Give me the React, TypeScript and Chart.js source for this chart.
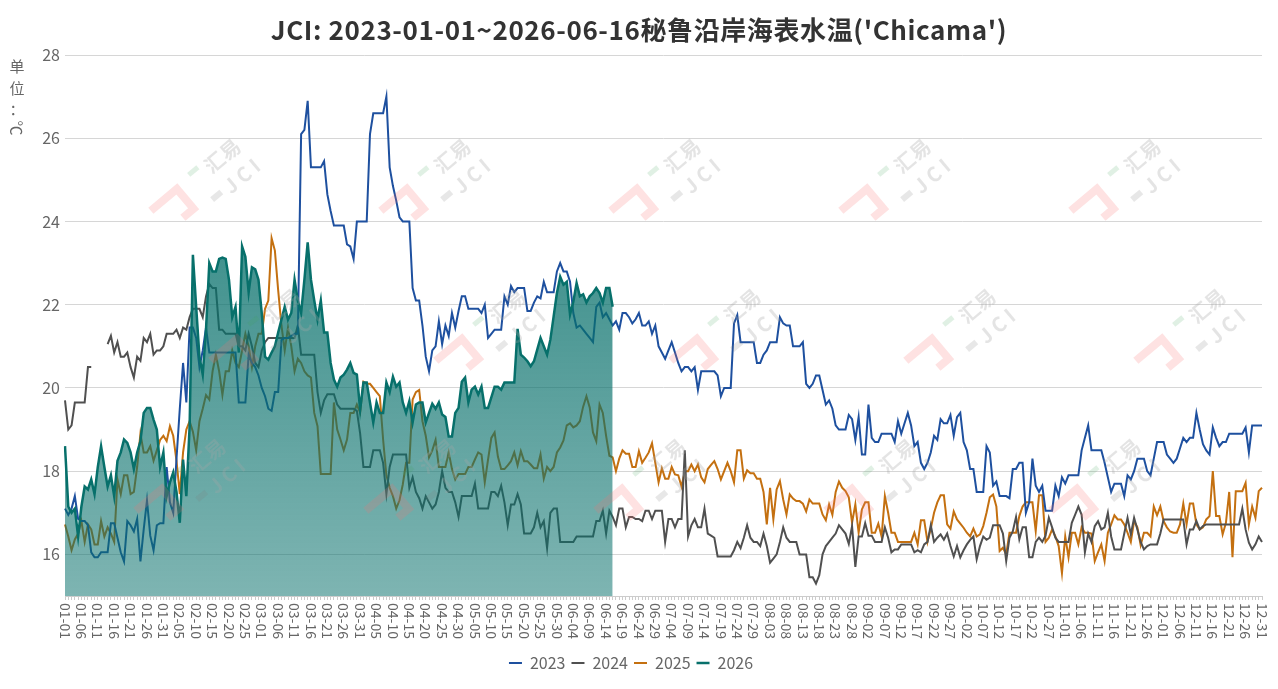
import React, { useEffect, useRef } from 'react';
import Chart from 'chart.js/auto';

// leap-year calendar, MM-DD
const monthDays = [31, 29, 31, 30, 31, 30, 31, 31, 30, 31, 30, 31];
const dayLabels: string[] = [];
monthDays.forEach((n, m) => {
  for (let d = 1; d <= n; d++) {
    dayLabels.push(`${String(m + 1).padStart(2, '0')}-${String(d).padStart(2, '0')}`);
  }
});
const labelEvery = 5;
const yTicks = [16, 18, 20, 22, 24, 26, 28];

const seriesNames = ['2023', '2024', '2025', '2026'];
const seriesColors = ['#1e509f', '#505050', '#c47010', '#07706b'];

const v2023 = [
  17.1, 16.95, 17.1, 17.4, 16.85, 16.8, 16.8, 16.7, 16.05, 15.93,
  15.93, 16.05, 16.05, 16.05, 16.75, 16.75, 16.4, 16.05, 15.83, 16.8,
  16.7, 16.55, 16.85, 15.83, 16.6, 17.3, 16.45, 16.1, 16.7, 16.75,
  16.75, 18.1, 17.25, 17.0, 18.3, 19.5, 20.6, 19.65, 21.45, 21.45,
  21.2, 20.5, 20.9, 21.45, 20.85, 20.85, 20.85, 20.85, 20.85, 20.85,
  20.85, 20.85, 20.85, 19.65, 19.65, 19.65, 20.8, 20.6, 20.5, 20.3,
  20.0, 19.8, 19.5, 19.45, 19.9, 19.9, 21.15, 21.2, 21.2, 21.25,
  21.3, 21.3, 26.1, 26.2, 26.9, 25.3, 25.3, 25.3, 25.3, 25.45,
  24.65, 24.25, 23.9, 23.9, 23.9, 23.9, 23.45, 23.4, 23.1, 24.0,
  24.0, 24.0, 24.0, 26.1, 26.6, 26.6, 26.6, 26.6, 27.0, 25.3,
  24.85, 24.5, 24.1, 24.0, 24.0, 24.0, 22.4, 22.1, 22.1, 21.5,
  20.75, 20.4, 20.9, 21.0, 21.6, 21.05, 21.5, 21.25, 21.8, 21.45,
  21.85, 22.2, 22.2, 21.9, 21.9, 21.9, 21.9, 21.8, 22.0, 21.2,
  21.3, 21.4, 21.4, 21.4, 22.2, 22.0, 22.45, 22.3, 22.4, 22.4,
  22.4, 21.85, 21.85, 22.05, 22.2, 22.15, 22.55, 22.3, 22.3, 22.3,
  22.8, 23.0, 22.8, 22.8, 22.55, 21.8, 21.45, 21.5, 21.4, 21.3,
  21.2, 21.1, 21.95, 22.05, 21.7, 21.8, 21.65, 21.5, 21.6, 21.4,
  21.8, 21.8, 21.7, 21.55, 21.65, 21.8, 21.5, 21.5, 21.6, 21.3,
  21.5, 21.0, 20.85, 20.7, 20.9, 21.1, 20.85, 20.6, 20.4, 20.5,
  20.5, 20.4, 20.5, 19.95, 20.4, 20.4, 20.4, 20.4, 20.4, 20.3,
  19.8, 20.0, 20.0, 20.0, 21.55, 21.75, 21.1, 21.1, 21.1, 21.1,
  21.1, 20.6, 20.6, 20.8, 20.9, 21.1, 21.1, 21.1, 21.7, 21.55,
  21.5, 21.5, 21.0, 21.0, 21.0, 21.1, 20.1, 20.0, 20.1, 20.3,
  20.3, 19.95, 19.6, 19.7, 19.5, 19.1, 19.0, 19.0, 19.0, 19.35,
  19.25, 18.75, 19.3, 18.4, 18.4, 19.6, 18.8, 18.7, 18.7, 18.9,
  18.9, 18.9, 18.9, 18.7, 19.2, 18.9, 19.15, 19.4, 19.1, 18.6,
  18.7, 18.2, 18.05, 18.2, 18.45, 18.85, 18.75, 19.25, 19.15, 19.15,
  19.35, 18.85, 19.3, 19.4, 18.7, 18.5, 18.05, 18.05, 17.5, 17.5,
  17.5, 18.6, 18.45, 17.65, 17.75, 17.4, 17.4, 17.4, 17.35, 18.05,
  18.05, 18.2, 18.2, 17.0, 17.25, 18.3, 17.65, 17.5, 17.65, 17.05,
  17.05, 17.05, 17.65, 17.4, 17.85, 17.7, 17.9, 17.9, 17.9, 17.9,
  18.5, 18.8, 19.1, 18.5, 18.5, 18.5, 18.5, 18.2, 17.85, 17.5,
  17.7, 17.7, 17.7, 17.4, 17.9, 17.8, 18.0, 18.3, 18.3, 18.3,
  18.0, 17.9, 18.3, 18.7, 18.7, 18.7, 18.4, 18.3, 18.2, 18.3,
  18.55, 18.8, 18.7, 18.8, 18.8, 19.4, 19.0, 18.65, 18.5, 18.4,
  19.05, 18.8, 18.6, 18.7, 18.7, 18.9, 18.9, 18.9, 18.9, 18.9,
  19.05, 18.45, 19.1, 19.1, 19.1, 19.1,
];

const v2024 = [
  19.7, 19.0, 19.1, 19.65, 19.65, 19.65, 19.65, 20.5, 20.5, null,
  null, null, null, 21.05, 21.25, 20.85, 21.1, 20.75, 20.75, 20.85,
  20.5, 20.25, 20.75, 20.65, 21.2, 21.1, 21.3, 20.8, 20.9, 20.9,
  21.0, 21.3, 21.3, 21.3, 21.4, 21.2, 21.45, 21.4, 21.7, 21.9,
  21.9, 21.9, 21.7, 22.2, 22.5, 22.4, 22.4, 21.4, 21.4, 21.3,
  21.3, 21.3, 21.3, 21.0, 21.0, 20.9, 21.3, 21.0, 20.6, 20.5,
  20.9, 21.1, 21.2, 21.2, 21.2, 21.2, 21.2, 21.2, 21.2, 21.2,
  21.2, 21.5, 20.8, 20.8, 20.8, 20.8, 20.8, 19.9, 19.4, 19.7,
  19.85, 19.85, 19.85, 19.6, 19.5, 19.5, 19.5, 19.5, 19.5, 19.45,
  18.9, 18.1, 18.1, 18.1, 18.5, 18.5, 18.5, 18.2, 17.45, 18.1,
  18.4, 18.4, 18.4, 18.4, 18.4, 17.6, 17.85, 17.5, 17.35, 17.1,
  17.4, 17.25, 17.1, 17.2, 17.5, 18.0, 17.6, 17.5, 17.5, 17.25,
  16.9, 17.4, 17.4, 17.4, 17.4, 17.7, 17.1, 17.1, 17.1, 17.1,
  17.5, 17.5, 17.4, 17.65, 17.25, 16.7, 17.2, 17.2, 17.45, 17.2,
  16.5, 16.5, 16.5, 16.65, 17.0, 16.65, 16.8, 16.15, 17.0, 17.1,
  17.1, 16.3, 16.3, 16.3, 16.3, 16.3, 16.43, 16.43, 16.43, 16.43,
  16.43, 16.43, 16.8, 16.8, 17.05, 16.5, 17.05, 16.9, 16.7, 17.1,
  17.1, 16.65, 16.9, 16.9, 16.85, 16.85, 16.8, 17.05, 17.05, 16.85,
  17.05, 17.05, 17.05, 16.3, 16.85, 16.85, 16.65, 16.85, 16.85, 18.5,
  16.43, 16.7, 16.85, 16.65, 16.65, 17.1, 16.5, 16.45, 16.4, 15.95,
  15.95, 15.95, 15.95, 15.95, 16.1, 16.3, 16.15, 16.4, 16.7, 16.4,
  16.3, 16.3, 16.2, 16.5, 16.2, 15.8, 15.9, 16.0, 16.3, 16.65,
  16.4, 16.3, 16.3, 16.3, 16.0, 16.0, 16.0, 15.45, 15.45, 15.3,
  15.5, 16.0, 16.2, 16.3, 16.4, 16.5, 16.7, 16.6, 16.5, 16.25,
  16.68, 15.7, 16.43, 16.43, 16.75, 16.45, 16.45, 16.3, 16.3, 16.3,
  16.65, 16.4, 16.05, 16.12, 16.12, 16.24, 16.24, 16.24, 16.24, 16.05,
  16.1, 16.05, 16.24, 16.3, 16.7, 16.3, 16.4, 16.48, 16.35, 16.5,
  16.2, 15.95, 16.2, 15.93, 16.1, 16.24, 16.35, 16.43, 15.88, 16.2,
  16.43, 16.35, 16.4, 16.7, 16.7, 16.7, 16.5, 15.84, 16.4, 16.55,
  16.9, 16.36, 16.65, 16.65, 15.93, 15.93, 16.3, 16.4, 16.3, 16.45,
  16.88, 16.65, 16.4, 16.3, 16.3, 16.3, 16.3, 16.76, 16.95, 17.15,
  16.95, 16.05, 16.5, 16.3, 16.68, 16.8, 16.6, 16.65, 17.0, 16.43,
  16.12, 16.12, 16.12, 16.5, 16.88, 16.48, 16.88, 16.6, 16.3, 16.12,
  16.2, 16.24, 16.24, 16.24, 16.5, 16.84, 16.84, 16.84, 16.84, 16.84,
  16.84, 16.84, 16.24, 16.6, 16.6, 16.8, 16.6, 16.68, 16.72, 16.72,
  16.72, 16.72, 16.72, 16.72, 16.72, 16.72, 16.72, 16.72, 16.72, 17.1,
  16.6, 16.28, 16.12, 16.24, 16.43, 16.3,
];

const v2025 = [
  16.72, 16.43, 16.1, 16.36, 16.5, 16.8, 16.3, 16.72, 16.6, 16.24,
  16.24, 16.8, 16.43, 16.65, 16.5, 16.3, 17.8, 17.45, 17.9, 17.9,
  17.45, 17.5, 18.1, 18.9, 18.45, 18.45, 18.6, 18.25, 18.5, 18.75,
  18.85, 18.72, 19.08, 18.85, 18.25, 17.45, 18.45, 19.0, 19.2, 18.95,
  18.5, 19.2, 19.5, 19.83, 19.72, 20.4, 20.8, 20.4, 19.83, 20.4,
  20.4, 20.9, 20.6, 20.5, 20.9, 21.3, 21.0, 20.5, 21.0, 21.3,
  21.3, 21.9, 22.1, 23.6, 23.3, 22.35, 21.5, 20.9, 21.45, 21.0,
  20.4, 20.7, 20.6, 20.4, 20.3, 20.25, 19.4, 19.08, 17.93, 17.93,
  17.93, 17.93, 19.65, 19.0, 18.76, 18.5, 18.76, 19.4, 19.4, 19.6,
  19.4, 20.15, 20.1, 20.1, 20.0, 19.9, 19.8, 18.76, 17.9, 17.6,
  17.4, 17.1, 17.3, 17.68, 18.2, 18.2, 19.72, 19.9, 19.95, 19.2,
  18.85, 18.33, 18.5, 18.75, 18.1, 18.1, 18.1, 18.45, 18.05, 17.8,
  17.93, 17.93, 17.93, 18.1, 18.1, 18.28, 18.45, 18.4, 17.73, 18.28,
  18.8, 18.93, 18.35, 18.05, 18.05, 18.14, 18.24, 18.45, 18.14, 18.48,
  18.24, 18.24, 18.16, 18.07, 18.07, 18.4, 17.82, 18.1, 18.0, 18.1,
  18.45, 18.57, 18.74, 19.1, 19.15, 19.05, 19.1, 19.2, 19.55, 19.8,
  19.53, 18.93, 18.72, 19.6, 19.4, 18.85, 18.37, 18.33, 18.0, 18.3,
  18.5, 18.42, 18.42, 18.1, 18.1, 18.48, 18.2, 18.32, 18.45, 18.67,
  18.2, 17.73, 18.07, 17.82, 17.82, 18.1, 17.92, 17.9, 17.63, 18.0,
  18.0, 18.16, 18.0, 18.16, 17.85, 17.73, 18.05, 18.15, 18.24, 18.05,
  17.8, 18.0, 18.2, 18.0, 17.73, 18.5, 18.5, 17.82, 18.02, 17.95,
  17.95, 17.82, 17.82, 17.5, 16.72, 17.6, 16.84, 17.56, 17.76, 17.32,
  16.96, 17.44, 17.34, 17.28, 17.28, 17.22, 17.03, 17.32, 17.22, 17.22,
  17.22, 16.96, 16.82, 17.2, 16.95, 17.5, 17.75, 17.6, 17.52, 17.37,
  16.76, 17.2, 16.52, 17.08, 17.25, 17.25, 16.52, 16.52, 16.74, 16.43,
  17.4, 17.0, 16.52, 16.52, 16.3, 16.3, 16.3, 16.3, 16.3, 16.52,
  16.24, 16.82, 16.82, 16.3, 16.62, 17.0, 17.25, 17.42, 17.42, 16.72,
  16.62, 17.03, 16.84, 16.74, 16.64, 16.52, 16.43, 16.62, 16.43, 16.48,
  16.68, 17.0, 17.37, 17.44, 17.15, 16.08, 16.16, 16.0, 16.52, 16.52,
  16.52, 16.92, 17.15, 17.25, 17.25, 17.25, 16.56, 17.42, 17.42, 16.3,
  16.4, 16.6, 16.43, 16.2, 15.55, 16.43, 15.93, 16.52, 16.52, 16.24,
  16.65, 16.52, 16.52, 16.5, 15.84, 16.05, 16.24, 15.84, 16.52, 16.72,
  16.94, 16.84, 16.84, 16.72, 16.52, 16.3, 16.8, 16.65, 16.22, 16.52,
  16.52, 16.43, 17.15, 16.94, 17.15, 16.8, 16.65, 16.55, 16.52, 16.52,
  16.72, 17.22, 16.72, 17.22, 17.22, 16.72, 16.6, 16.65, 16.84, 16.92,
  18.0, 16.92, 16.92, 16.48, 16.76, 17.5, 15.93, 17.52, 17.52, 17.52,
  17.72, 16.72, 17.15, 16.88, 17.52, 17.6,
];

// 2026 runs 01-01 .. 06-16
const v2026 = [
  18.6, 17.15, 17.0, 17.1, 16.43, 17.15, 17.63, 17.56, 17.8, 17.45,
  18.1, 18.6, 18.1, 17.63, 17.9, 17.4, 18.25, 18.45, 18.76, 18.68,
  18.45, 18.05, 18.45, 18.72, 19.4, 19.52, 19.52, 19.24, 19.0, 18.1,
  18.45, 17.4, 17.73, 17.97, 17.5, 16.76, 18.28, 17.4, 19.08, 23.2,
  21.95, 20.75, 20.32, 21.4, 23.0, 22.8, 22.8, 23.1, 23.13, 23.1,
  22.6, 21.7, 21.95, 20.85, 23.4, 23.15, 22.3, 22.9, 22.85, 22.6,
  21.8, 20.75, 20.68, 20.85, 21.0, 21.33, 21.64, 21.95, 21.64, 21.8,
  22.6, 22.1, 21.8, 22.6, 23.5, 22.6, 22.1, 21.64, 22.1, 21.33,
  21.33, 20.6, 20.2, 20.03, 20.25, 20.32, 20.44, 20.6, 20.36, 20.32,
  19.48, 20.13, 20.13, 19.65, 19.17, 19.65, 19.4, 19.4, 20.13, 19.9,
  20.27, 20.03, 20.13, 19.65, 19.4, 19.68, 19.17, 19.6, 19.65, 19.65,
  19.17, 19.4, 19.62, 19.5, 19.65, 19.36, 19.3, 18.83, 18.83, 19.4,
  19.52, 20.15, 20.25, 19.65, 19.96, 20.03, 19.84, 20.03, 19.52, 19.52,
  19.77, 20.03, 20.03, 19.96, 20.13, 20.13, 20.13, 20.13, 21.42, 20.8,
  20.73, 20.64, 20.52, 20.64, 20.92, 21.2, 21.0, 20.8, 21.16, 21.72,
  22.28, 22.67, 22.48, 22.55, 21.76, 22.07, 22.52, 22.2, 22.25, 22.05,
  22.2, 22.28, 22.4, 22.28, 22.05, 22.4, 22.4, 21.95,
];

const FONT = '"Noto Sans CJK SC", "Noto Sans", sans-serif';
const TEXT_GREY = '#666';

// watermark spots (decoration only)
const markSpots = [
  [230, 165], [460, 165], [690, 165], [920, 165], [1150, 165],
  [290, 315], [515, 315], [750, 315], [985, 315], [1215, 315],
  [215, 465], [445, 465], [675, 465], [905, 465], [1130, 465],
];

const titlePlugin = {
  id: 'topTitle',
  afterDraw(chart: Chart) {
    const { ctx, width } = chart;
    ctx.save();
    ctx.font = `bold 26px ${FONT}`;
    (ctx as any).letterSpacing = '0.6px';
    ctx.fillStyle = '#333';
    ctx.textAlign = 'center';
    ctx.textBaseline = 'middle';
    ctx.fillText("JCI: 2023-01-01~2026-06-16秘鲁沿岸海表水温('Chicama')", width / 2, 30);
    ctx.restore();
  },
};

const unitPlugin = {
  id: 'unitLabel',
  afterDraw(chart: Chart) {
    const { ctx } = chart;
    ctx.save();
    ctx.font = `15px ${FONT}`;
    ctx.fillStyle = TEXT_GREY;
    ctx.textAlign = 'center';
    ctx.textBaseline = 'middle';
    ctx.fillText('单', 17, 66);
    ctx.fillText('位', 17, 88);
    ctx.fillText('：', 17, 109);
    ctx.translate(17, 128);
    ctx.rotate(Math.PI / 2);
    ctx.fillText('℃', 0, 0);
    ctx.restore();
  },
};

// x labels read top-to-bottom, so they are drawn here instead of by the scale
const xLabelPlugin = {
  id: 'xLabels',
  afterDraw(chart: Chart) {
    const { ctx } = chart;
    const xs = chart.scales.x;
    ctx.save();
    ctx.font = `14px ${FONT}`;
    ctx.fillStyle = TEXT_GREY;
    ctx.textAlign = 'left';
    ctx.textBaseline = 'middle';
    dayLabels.forEach((lab, i) => {
      if (i % labelEvery !== 0) return;
      ctx.save();
      ctx.translate(xs.getPixelForValue(i), xs.top + 7);
      ctx.rotate(Math.PI / 2);
      ctx.fillText(lab, 0, 0);
      ctx.restore();
    });
    ctx.restore();
  },
};

const watermarkPlugin = {
  id: 'watermark',
  afterDatasetsDraw(chart: Chart) {
    const { ctx } = chart;
    markSpots.forEach(([cx, cy]) => {
      ctx.save();
      ctx.translate(cx, cy);
      ctx.rotate(-0.7);
      ctx.lineWidth = 8;
      ctx.lineJoin = 'miter';
      ctx.strokeStyle = 'rgba(250,110,110,0.2)';
      ctx.beginPath();
      ctx.moveTo(-90, -16);
      ctx.lineTo(-56, -16);
      ctx.lineTo(-56, 10);
      ctx.lineTo(-70, 10);
      ctx.stroke();
      ctx.lineWidth = 5;
      ctx.strokeStyle = 'rgba(60,160,90,0.16)';
      ctx.beginPath();
      ctx.moveTo(-38, -19);
      ctx.lineTo(-26, -19);
      ctx.stroke();
      ctx.fillStyle = 'rgba(120,120,120,0.18)';
      ctx.fillRect(-36, 12, 12, 6);
      ctx.font = `bold 20px ${FONT}`;
      ctx.fillStyle = 'rgba(165,165,165,0.3)';
      ctx.textAlign = 'center';
      ctx.textBaseline = 'middle';
      ctx.fillText('汇易', 0, -12);
      ctx.fillText('J C I', 2, 16);
      ctx.restore();
    });
  },
};

const ChartView: React.FC = () => {
  const canvasRef = useRef<HTMLCanvasElement | null>(null);
  const chartRef = useRef<Chart | null>(null);

  useEffect(() => {
    if (!canvasRef.current) return;
    Chart.defaults.font.family = FONT;

    const series = [v2023, v2024, v2025, v2026];
    const datasets = series.map((values, k) => ({
      label: seriesNames[k],
      data: values,
      borderColor: seriesColors[k],
      borderWidth: k === 3 ? 2.5 : 2,
      pointRadius: 0,
      tension: 0,
      spanGaps: false,
      order: k === 3 ? 0 : 1,
      fill: k === 3 ? 'start' : false,
      backgroundColor:
        k === 3
          ? (c: any) => {
              const { chart } = c;
              const area = chart.chartArea;
              if (!area) return 'rgba(7,112,107,0.6)';
              const top = chart.scales.y.getPixelForValue(23.5);
              const g = chart.ctx.createLinearGradient(0, top, 0, area.bottom);
              g.addColorStop(0, 'rgba(7,112,107,0.77)');
              g.addColorStop(1, 'rgba(7,112,107,0.52)');
              return g;
            }
          : seriesColors[k],
    }));

    chartRef.current?.destroy();
    chartRef.current = new Chart(canvasRef.current, {
      type: 'line',
      data: { labels: dayLabels, datasets },
      options: {
        animation: false,
        responsive: true,
        maintainAspectRatio: false,
        layout: { padding: { top: 55, right: 16, bottom: 8, left: 0 } },
        plugins: {
          title: { display: false },
          tooltip: { enabled: false },
          legend: {
            position: 'bottom',
            labels: {
              usePointStyle: true,
              pointStyle: 'line',
              pointStyleWidth: 13,
              color: TEXT_GREY,
              font: { size: 16 },
              padding: 6,
              sort: (a: any, b: any) => a.datasetIndex - b.datasetIndex,
            },
          },
        },
        scales: {
          x: {
            type: 'category',
            offset: false,
            grid: { display: true, drawOnChartArea: false, drawTicks: true, tickLength: 4, color: '#cccccc' },
            border: { display: true, color: '#cccccc' },
            ticks: { display: false },
            afterFit: (s: any) => {
              s.height = 53;
            },
          },
          y: {
            min: 15,
            max: 28,
            afterBuildTicks: (s: any) => {
              s.ticks = yTicks.map((v) => ({ value: v }));
            },
            grid: { color: '#d6d6d6', drawTicks: false },
            border: { display: false },
            ticks: { color: TEXT_GREY, font: { size: 16 }, padding: 5 },
            afterFit: (s: any) => {
              s.width = 65;
            },
          },
        },
      },
      plugins: [titlePlugin, unitPlugin, xLabelPlugin, watermarkPlugin],
    });

    return () => {
      chartRef.current?.destroy();
      chartRef.current = null;
    };
  }, []);

  return (
    <div style={{ position: 'fixed', left: 0, top: 0, width: 1278, height: 689, background: '#fff' }}>
      <canvas ref={canvasRef} />
    </div>
  );
};

export default function App() {
  return <ChartView />;
}
